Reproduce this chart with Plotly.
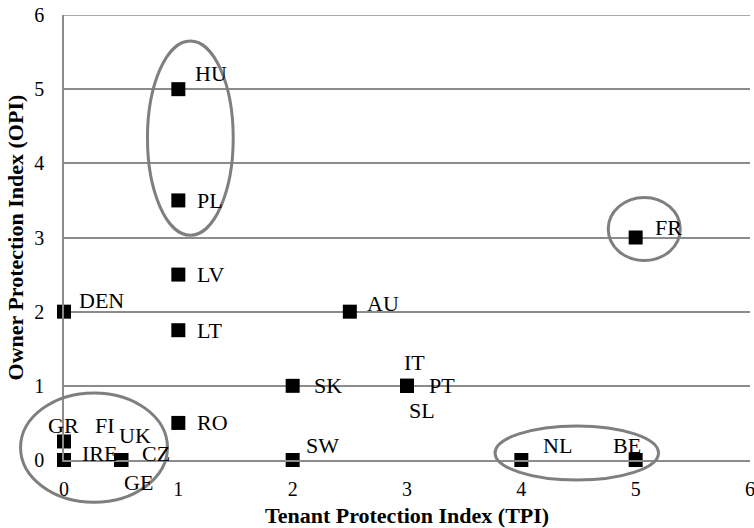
import plotly.graph_objects as go

countries = ["HU", "PL", "LV", "LT", "RO", "DEN", "AU", "SK", "IT", "PT", "SL",
             "SW", "NL", "BE", "FR", "GR", "IRE", "FI", "UK", "CZ", "GE"]
tpi = [1, 1, 1, 1, 1, 0, 2.5, 2, 3, 3, 3, 2, 4, 5, 5, 0, 0, 0.5, 0.5, 0.5, 0.5]
opi = [5, 3.5, 2.5, 1.75, 0.5, 2, 2, 1, 1, 1, 1, 0, 0, 0, 3, 0.25, 0, 0, 0, 0, 0]

x_ticks = [0, 1, 2, 3, 4, 5, 6]
y_ticks = [0, 1, 2, 3, 4, 5, 6]

# label offsets (pixels): xanchor, xshift, yshift
label_style = {
    "HU": ("left", 15, 16), "PL": ("left", 17, 0), "LV": ("left", 17, 0),
    "LT": ("left", 17, 0), "RO": ("left", 17, 0), "DEN": ("left", 13, 11),
    "AU": ("left", 15, 8), "SK": ("left", 19, 0), "IT": ("center", 7, 23),
    "PT": ("left", 20, 0), "SL": ("center", 15, -25), "SW": ("left", 11, 15),
    "NL": ("left", 20, 15), "BE": ("left", -25, 15), "FR": ("left", 17, 10),
    "GR": ("left", -18, 16), "IRE": ("left", 16, 7), "FI": ("left", -28, 35),
    "UK": ("left", -4, 25), "CZ": ("left", 19, 7), "GE": ("left", 1, -22),
}

FONT = "Liberation Serif"
FS = 22
TICK_FS = 20
GRID = "#8c8c8c"

fig = go.Figure()
fig.add_trace(go.Scatter(
    x=tpi, y=opi, mode="markers",
    marker=dict(symbol="square", size=14, color="black"),
    cliponaxis=False, hoverinfo="text", text=countries,
))

for c, xv, yv in zip(countries, tpi, opi):
    anc, dx, dy = label_style[c]
    fig.add_annotation(x=xv, y=yv, xref="x", yref="y", text=c, showarrow=False,
                       xanchor=anc, yanchor="middle", xshift=dx, yshift=dy,
                       font=dict(family=FONT, size=FS, color="black"))

# axis titles
fig.add_annotation(x=0.5, y=-0.1236, xref="paper", yref="paper",
                   text="<b>Tenant Protection Index (TPI)</b>", showarrow=False,
                   xanchor="center", yanchor="middle",
                   font=dict(family=FONT, size=FS, color="black"))
fig.add_annotation(x=-0.0700, y=0.5, xref="paper", yref="paper",
                   text="<b>Owner Protection Index (OPI)</b>", showarrow=False,
                   textangle=-90, xanchor="center", yanchor="middle",
                   font=dict(family=FONT, size=FS, color="black"))

# top gridline (at the last y tick)
fig.add_shape(type="line", xref="paper", yref="y", x0=0, x1=1,
              y0=y_ticks[-1], y1=y_ticks[-1], line=dict(color=GRID, width=1.5))

# ellipses (data-space bounds converted to paper fractions)
ellipses = [
    (0.73, 1.48, 3.03, 5.65),
    (4.76, 5.39, 2.69, 3.54),
    (-0.38, 0.905, -0.57, 0.905),
    (3.77, 5.20, -0.27, 0.46),
]
for x0, x1, y0, y1 in ellipses:
    fig.add_shape(type="circle", xref="paper", yref="paper",
                  x0=x0 / 6, x1=x1 / 6, y0=y0 / 6, y1=y1 / 6,
                  line=dict(color="#7f7f7f", width=3))

fig.update_layout(
    width=754, height=528,
    margin=dict(l=64, r=4, t=15, b=68),
    plot_bgcolor="white", paper_bgcolor="white",
    showlegend=False,
    font=dict(family=FONT, size=FS, color="black"),
    xaxis=dict(range=[0, 6], tickvals=x_ticks, showgrid=False, zeroline=False,
               showline=True, linecolor=GRID, linewidth=1.5,
               ticks="outside", ticklen=10, tickcolor="rgba(0,0,0,0)",
               tickfont=dict(family=FONT, size=TICK_FS), automargin=False,
               ticklabeloverflow="allow"),
    yaxis=dict(range=[0, 6], tickvals=y_ticks, showgrid=True, gridcolor=GRID,
               gridwidth=1.5, zeroline=False, showline=True, linecolor=GRID,
               linewidth=1.5, ticks="outside", ticklen=14,
               tickcolor="rgba(0,0,0,0)", tickfont=dict(family=FONT, size=TICK_FS),
               automargin=False, ticklabeloverflow="allow"),
)

fig.write_html("out.html", config={"displayModeBar": False},
               post_script="document.body.style.margin='0';document.body.style.overflow='hidden';")
